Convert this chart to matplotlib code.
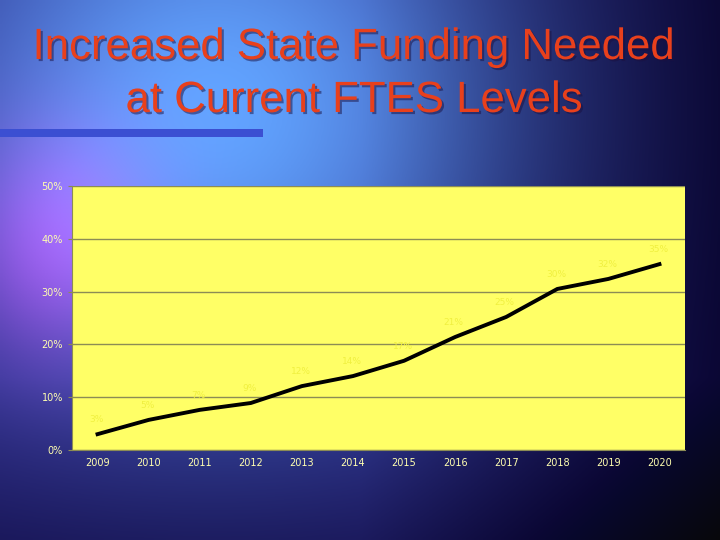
import matplotlib.pyplot as plt
import matplotlib.patheffects as pe
import numpy as np

years = ["2009", "2010", "2011", "2012", "2013", "2014",
         "2015", "2016", "2017", "2018", "2019", "2020"]
pct = [3.0, 5.7, 7.6, 8.9, 12.1, 14.0, 16.9, 21.4, 25.2, 30.5, 32.4, 35.2]
labels = ["3%", "5%", "7%", "9%", "12%", "14%",
          "17%", "21%", "25%", "30%", "32%", "35%"]
yticks = [0, 10, 20, 30, 40, 50]

fig = plt.figure(figsize=(7.2, 5.4), dpi=100)

# background: bright blue glow upper left, fading to dark navy on the right
bg = fig.add_axes([0, 0, 1, 1])
xx, yy = np.meshgrid(np.linspace(0, 1, 240), np.linspace(0, 1, 180))
glow = np.exp(-((xx - 0.3) ** 2 / 0.15 + (yy - 0.2) ** 2 / 0.25))
purple = np.exp(-((xx - 0.08) ** 2 / 0.02 + (yy - 0.45) ** 2 / 0.05))
dark = np.clip((xx - 0.5) * 2.0, 0, 1) + np.clip((yy - 0.7) * 2.5, 0, 1) * 0.7
r = 0.16 + 0.22 * glow + 0.35 * purple - 0.12 * dark
g = 0.14 + 0.5 * glow - 0.12 * dark
b = 0.5 + 0.5 * glow + 0.2 * purple - 0.3 * dark
img = np.clip(np.dstack([r, g, b]), 0.03, 1)
bg.imshow(img, aspect="auto", extent=[0, 1, 0, 1], origin="upper")
bg.axis("off")

# title
title_fx = [pe.withSimplePatchShadow(offset=(1.5, -1.5), shadow_rgbFace="#1a1040", alpha=0.5)]
fig.text(0.492, 1 - 59 / 540, "Increased State Funding Needed", ha="center", va="baseline",
         fontsize=31.5, color="#E8401C", family="Liberation Sans", path_effects=title_fx)
fig.text(0.492, 1 - 112 / 540, "at Current FTES Levels", ha="center", va="baseline",
         fontsize=31.5, color="#E8401C", family="Liberation Sans", path_effects=title_fx)

# blue bar under title
bar = fig.add_axes([0, 1 - 137 / 540, 263 / 720, 8 / 540])
bar.set_facecolor("#3B4FD2")
bar.set_xticks([])
bar.set_yticks([])
for s in bar.spines.values():
    s.set_visible(False)

ax = fig.add_axes([72 / 720, 1 - 450 / 540, 613 / 720, 264 / 540])
ax.set_facecolor("#FFFF66")
x = np.arange(len(years))
ax.plot(x, pct, color="black", lw=2.8, solid_joinstyle="round")
for xi, yi, lab in zip(x, pct, labels):
    ax.annotate(lab, (xi, yi), xytext=(-1, 7), textcoords="offset points",
                ha="center", va="bottom", fontsize=6.5, color="#F0F040")

ax.set_xlim(-0.5, len(years) - 0.5)
ax.set_ylim(0, 50)
ax.set_yticks(yticks)
ax.set_yticklabels([f"{t}%" for t in yticks])
ax.set_xticks(x)
ax.set_xticklabels(years)
ax.grid(axis="y", color="#8C8C55", lw=1)
ax.set_axisbelow(True)
ax.tick_params(axis="both", colors="#8C8C55", labelcolor="#FFFFB0", labelsize=7, length=3)
ax.tick_params(axis="x", length=0, pad=6)
for side in ["top", "right"]:
    ax.spines[side].set_visible(False)
ax.spines["left"].set_color("#8C8C55")
ax.spines["bottom"].set_color("#8C8C55")

fig.savefig("out.png", dpi=100)
